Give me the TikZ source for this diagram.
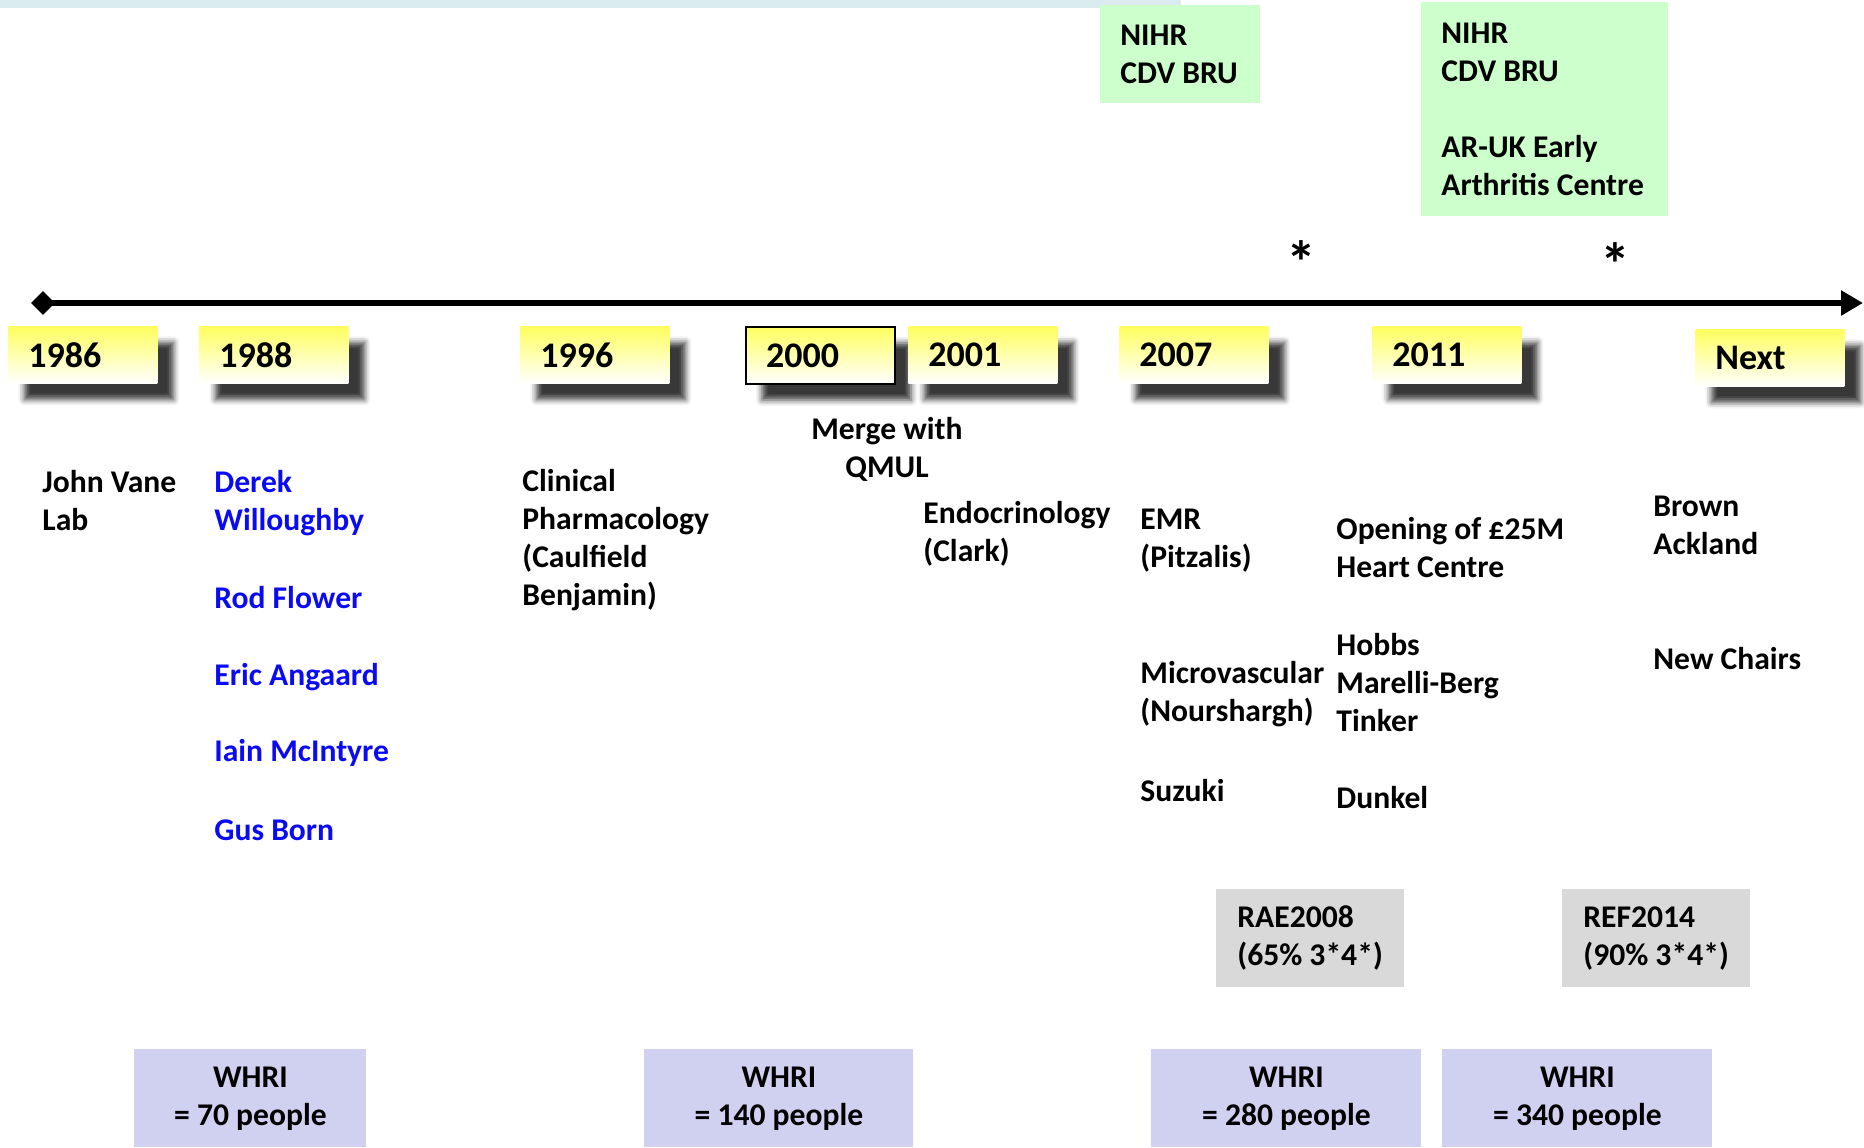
\documentclass[tikz,border=0pt]{standalone}
\usepackage{fontspec}
\setmainfont{Carlito}
\usetikzlibrary{arrows.meta,shapes.geometric,shadows.blur}
\definecolor{nihrgreen}{RGB}{204,255,204}
\definecolor{refgray}{RGB}{217,217,217}
\definecolor{whriblue}{RGB}{208,208,240}
\definecolor{topbar}{RGB}{218,236,240}
\definecolor{yearyellow}{RGB}{255,255,95}
\definecolor{nameblue}{RGB}{10,10,245}

\tikzset{
  txt/.style={anchor=west, align=left, inner sep=0pt, font=\bfseries\fontsize{15.8pt}{19pt}\selectfont},
  yearbox/.style={anchor=north west, minimum width=74.5pt, minimum height=28.5pt,
    text width=54.5pt, inner xsep=10pt, inner ysep=0pt, align=left,
    top color=yearyellow, bottom color=white,
    blur shadow={shadow xshift=8pt, shadow yshift=-8pt, shadow blur radius=3pt, shadow opacity=78},
    font=\bfseries\fontsize{18pt}{19pt}\selectfont},
  greenbox/.style={anchor=north west, fill=nihrgreen, inner sep=0pt},
  graybox/.style={anchor=north west, fill=refgray, inner sep=0pt, minimum width=94pt, minimum height=49pt},
  whribox/.style={anchor=north west, fill=whriblue, inner sep=0pt, minimum height=49pt, align=center,
    font=\bfseries\fontsize{15.8pt}{19pt}\selectfont},
  star/.style={anchor=center, inner sep=0pt, font=\bfseries\fontsize{30pt}{30pt}\selectfont}
}

\begin{document}
\begin{tikzpicture}[x=0.5pt, y=-0.5pt]
  \useasboundingbox (0,0) rectangle (1864,1147);
  \fill[topbar] (0,0) rectangle (1181,8);

  % funding boxes on top
  \node[greenbox, minimum width=80pt, minimum height=49pt] (bru1) at (1100,5) {};
  \node[txt] (bru1txt) at ([xshift=10pt]bru1.west) {NIHR\\CDV BRU};
  \node[greenbox, minimum width=123.5pt, minimum height=107pt] (bru2) at (1421,2) {};
  \node[txt] (bru2txt) at ([xshift=10pt]bru2.west) {NIHR\\CDV BRU\\[19pt]AR-UK Early\\Arthritis Centre};
  \node[star] (star1) at (1301,262) {*};
  \node[star] (star2) at (1615,264) {*};

  % time line
  \coordinate (tlend) at (1863,303);
  \draw[line width=3pt, -{Triangle[length=11pt, width=12pt]}] (43,303) -- (tlend);
  \node[diamond, fill=black, inner sep=0pt, minimum size=12pt] (tlstart) at (43,303) {};

  \foreach \yr/\xl in {1986/8, 1988/199, 1996/520}
    \node[yearbox] (y\yr) at (\xl,326) {\yr};
  \node[yearbox, draw=black, line width=1pt] (y2000) at (745,326) {2000};
  \foreach \yr/\xl in {2001/908, 2007/1119, 2011/1372}
    \node[yearbox] (y\yr) at (\xl,326) {\yr};
  \node[yearbox] (ynext) at (1695,329) {Next};

  % events
  \node[txt, align=center, anchor=center] (merge) at (887,449) {Merge with\\QMUL};
  \node[txt] (vane) at (42,501) {John Vane\\Lab};
  \node[txt, text=nameblue] (derek) at (214,503) {Derek\\Willoughby};
  \node[txt, text=nameblue] (flower) at (214,598) {Rod Flower};
  \node[txt, text=nameblue] (angaard) at (214,677) {Eric Angaard};
  \node[txt, text=nameblue] (mcintyre) at (214,753) {Iain McIntyre};
  \node[txt, text=nameblue] (born) at (214,830) {Gus Born};
  \node[txt] (clinpharm) at (522,540) {Clinical\\Pharmacology\\(Caulfield\\Benjamin)};
  \node[txt] (endo) at (923,534) {Endocrinology\\(Clark)};
  \node[txt] (emr) at (1140,541) {EMR\\(Pitzalis)};
  \node[txt] (microvasc) at (1140,694) {Microvascular\\(Nourshargh)};
  \node[txt] (suzuki) at (1140,791) {Suzuki};
  \node[txt] (heart) at (1336,548) {Opening of £25M\\Heart Centre};
  \node[txt] (hobbs) at (1336,683) {Hobbs\\Marelli-Berg\\Tinker};
  \node[txt] (dunkel) at (1336,798) {Dunkel};
  \node[txt] (brown) at (1653,525) {Brown\\Ackland};
  \node[txt] (chairs) at (1653,659) {New Chairs};

  % assessments
  \node[graybox] (rae) at (1216,889) {};
  \node[txt] (raetxt) at ([xshift=10.5pt]rae.west) {RAE2008\\(65\% 3*4*)};
  \node[graybox] (ref) at (1562,889) {};
  \node[txt] (reftxt) at ([xshift=10.5pt]ref.west) {REF2014\\(90\% 3*4*)};

  % head counts
  \node[whribox, minimum width=116pt] (whri1) at (134,1049) {WHRI\\= 70 people};
  \node[whribox, minimum width=134.5pt] (whri2) at (644,1049) {WHRI\\= 140 people};
  \node[whribox, minimum width=135pt] (whri3) at (1151,1049) {WHRI\\= 280 people};
  \node[whribox, minimum width=135pt] (whri4) at (1442,1049) {WHRI\\= 340 people};
\end{tikzpicture}
\end{document}
